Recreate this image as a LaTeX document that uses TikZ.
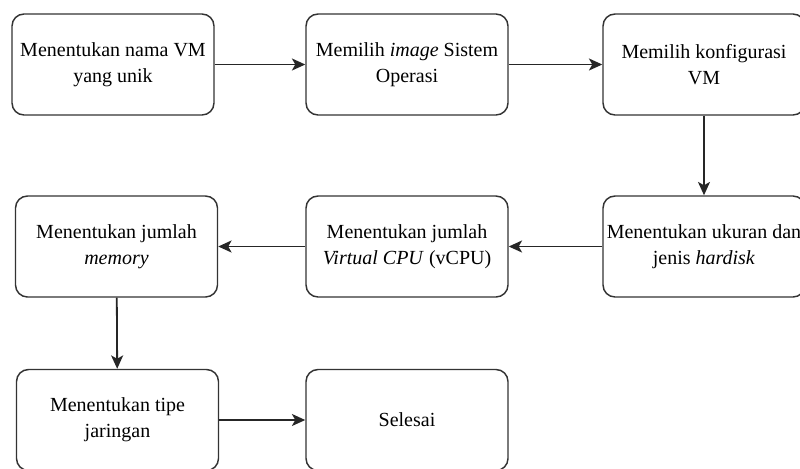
\documentclass[tikz,border=0pt]{standalone}
\usepackage{fontspec}
\setmainfont{Liberation Serif}[ItalicFont={Liberation Serif Italic}]
\usetikzlibrary{arrows.meta}
\begin{document}
\begin{tikzpicture}[x=0.75pt,y=-0.75pt,
  box/.style={draw=black!80, line width=1.1pt, rounded corners=9pt, fill=white,
    minimum width=151.5pt, minimum height=75.75pt, align=center,
    font=\fontsize{15pt}{19.5pt}\selectfont, inner sep=0pt},
  conn/.style={draw=black!85, line width=1.35pt, -{Stealth[length=10pt,width=9pt,inset=2.5pt]}}]
\useasboundingbox (0,0) rectangle (800,468);
\node[box] (b1) at (113,64.5) {Menentukan nama VM\\yang unik};
\node[box] (b2) at (407,64.5) {Memilih \textit{image} Sistem\\Operasi};
\node[box] (b3) at (704,64.5) {Memilih konfigurasi\\VM};
\node[box] (b4) at (116.5,246.5) {Menentukan jumlah\\\textit{memory}};
\node[box] (b5) at (407,246.5) {Menentukan jumlah\\\textit{Virtual CPU} (vCPU)};
\node[box] (b6) at (704,246.5) {Menentukan ukuran dan\\jenis \textit{hardisk}};
\node[box] (b7) at (117.5,420) {Menentukan tipe\\jaringan};
\node[box] (b8) at (407,420) {Selesai};
\draw[conn] (b1) -- (b2);
\draw[conn] (b2) -- (b3);
\draw[conn] (b3) -- (b6);
\draw[conn] (b6) -- (b5);
\draw[conn] (b5) -- (b4);
\draw[conn] (b4) -- (b7);
\draw[conn] (b7) -- (b8);
\end{tikzpicture}
\end{document}
